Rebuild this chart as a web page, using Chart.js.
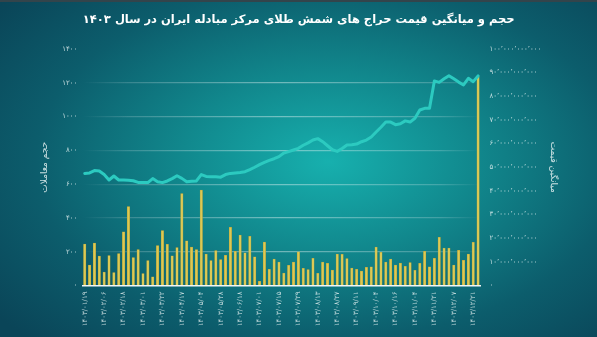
<!DOCTYPE html>
<html>
<head>
<meta charset="utf-8">
<script src="https://cdn.jsdelivr.net/npm/chart.js@4.4.1/dist/chart.umd.min.js"></script>
<style>
  html, body { margin: 0; padding: 0; }
  body {
    width: 597px; height: 337px; overflow: hidden;
    background: radial-gradient(ellipse 70% 75% at 55% 48%, #17b0ae 0%, #11888d 35%, #0c5d6c 70%, #0a4558 100%);
    border-top: 2px solid #33444b;
    box-sizing: border-box;
  }
  canvas { display: block; }
</style>
</head>
<body>
<canvas id="chart" width="597" height="335"></canvas>
<script>
// x tick labels (every 4th auction date)
const tickDates = ['۱۴۰۳/۰۱/۱۹', '۱۴۰۳/۰۲/۰۶', '۱۴۰۳/۰۲/۱۸', '۱۴۰۳/۰۳/۰۱', '۱۴۰۳/۰۳/۲۲', '۱۴۰۳/۰۴/۱۷',
  '۱۴۰۳/۰۵/۰۴', '۱۴۰۳/۰۵/۲۸', '۱۴۰۳/۰۶/۱۸', '۱۴۰۳/۰۷/۰۱', '۱۴۰۳/۰۷/۱۵', '۱۴۰۳/۰۷/۲۹', '۱۴۰۳/۰۸/۱۳',
  '۱۴۰۳/۰۸/۲۷', '۱۴۰۳/۰۹/۱۱', '۱۴۰۳/۱۰/۰۴', '۱۴۰۳/۱۰/۱۶', '۱۴۰۳/۱۱/۰۴', '۱۴۰۳/۱۱/۲۱', '۱۴۰۳/۱۲/۰۷', '۱۴۰۳/۱۲/۲۱'];

// trade volume per auction (left axis)
const volumes = [245, 121, 251, 174, 80, 177, 77, 189, 318, 467, 166, 212, 70, 148, 52, 237, 325, 243, 176, 225, 544, 265,
  228, 212, 565, 186, 147, 206, 153, 179, 344, 202, 299, 194, 291, 169, 25, 257, 96, 157, 139, 74, 120, 139,
  200, 102, 94, 161, 72, 139, 131, 92, 186, 184, 159, 103, 96, 86, 107, 111, 228, 196, 139, 157, 121,
  133, 113, 135, 90, 131, 202, 111, 161, 285, 222, 222, 121, 208, 149, 186, 256, 1237];

// average price, billion rial (right axis)
const prices = [47.4, 47.6, 48.6, 48.4, 46.9, 44.6, 46.3, 44.6, 44.6, 44.5, 44.3, 43.6, 43.6, 43.5, 45.2, 43.9, 43.5,
  44.2, 45.2, 46.4, 45.3, 43.9, 44.1, 44.2, 46.9, 46.1, 46.0, 46.0, 45.8, 46.9, 47.4, 47.6, 47.8, 48.1, 49.0,
  50.0, 51.1, 52.1, 52.9, 53.6, 54.5, 56.0, 56.6, 57.3, 58.0, 59.3, 60.3, 61.5, 62.1, 60.8, 59.1, 57.4, 56.7,
  57.9, 59.4, 59.5, 59.8, 60.8, 61.5, 62.8, 64.9, 66.9, 69.1, 69.1, 68.0, 68.4, 69.6, 69.1, 70.7, 74.2, 74.9,
  74.9, 86.5, 85.9, 87.4, 88.7, 87.4, 86.0, 84.8, 87.6, 86.2, 88.6];

const faDigits = '۰۱۲۳۴۵۶۷۸۹';
function toFa(s) {
  return String(s).replace(/\d/g, d => faDigits[d]);
}
function faNumber(n) {
  return toFa(Math.round(n).toLocaleString('en-US').replace(/,/g, '٬'));
}

const labels = volumes.map((v, i) => (i % 4 === 0 ? tickDates[i / 4] : ''));

const fontFamily = '"DejaVu Sans", sans-serif';
const tickColor = 'rgba(235, 245, 245, 0.8)';

// faint grid lines that fade out at both ends
function gridColor(context) {
  const chart = context.chart;
  const area = chart.chartArea;
  const v = context.tick ? context.tick.value : null;
  if (v === 0 || v === 1400) return 'rgba(0,0,0,0)';
  if (!area) return 'rgba(255,255,255,0.25)';
  const g = chart.ctx.createLinearGradient(area.left, 0, area.right, 0);
  g.addColorStop(0, 'rgba(255,255,255,0)');
  g.addColorStop(0.12, 'rgba(255,255,255,0.18)');
  g.addColorStop(0.5, 'rgba(255,255,255,0.4)');
  g.addColorStop(0.9, 'rgba(255,255,255,0.2)');
  g.addColorStop(1, 'rgba(255,255,255,0)');
  return g;
}

new Chart(document.getElementById('chart'), {
  type: 'bar',
  data: {
    labels: labels,
    datasets: [
      {
        type: 'line',
        label: 'میانگین قیمت',
        data: prices,
        yAxisID: 'y1',
        borderColor: '#2ccac0',
        borderWidth: 3,
        pointRadius: 0,
        tension: 0,
        borderJoinStyle: 'round',
        borderCapStyle: 'round',
        order: 0
      },
      {
        type: 'bar',
        label: 'حجم معاملات',
        data: volumes,
        yAxisID: 'y',
        backgroundColor: '#dcc955',
        borderColor: '#b3a23a',
        borderWidth: 0.5,
        barThickness: 2.4,
        order: 1
      }
    ]
  },
  options: {
    responsive: false,
    animation: false,
    layout: { padding: { left: 35, right: 34.6, top: 0, bottom: 0 } },
    plugins: {
      legend: { display: false },
      tooltip: { enabled: false },
      title: {
        display: true,
        text: 'حجم و میانگین قیمت حراج های شمش طلای مرکز مبادله ایران در سال ۱۴۰۳',
        color: '#ffffff',
        font: { family: fontFamily, size: 11.5, weight: 'bold' },
        padding: { top: 11, bottom: 22.2 }
      }
    },
    scales: {
      x: {
        grid: { display: false, drawTicks: false },
        border: { display: true, color: '#f2f7f7', width: 1.5 },
        ticks: {
          autoSkip: false,
          minRotation: 90,
          maxRotation: 90,
          padding: 6,
          color: tickColor,
          font: { family: fontFamily, size: 7 },
          callback: function (value, index) { return labels[index]; }
        },
        afterFit: function (scale) { scale.height = 51.5; }
      },
      y: {
        position: 'left',
        min: 0,
        max: 1400,
        grid: { color: gridColor, lineWidth: 1.2, drawTicks: false },
        border: { display: false },
        ticks: {
          stepSize: 200,
          padding: 5,
          color: tickColor,
          font: { family: fontFamily, size: 7 },
          callback: v => toFa(v)
        },
        title: {
          display: true,
          text: 'حجم معاملات',
          color: 'rgba(235,245,245,0.85)',
          font: { family: fontFamily, size: 9 },
          padding: { top: 4, bottom: 0 }
        },
        afterFit: function (scale) { scale.width = 47.3; }
      },
      y1: {
        position: 'right',
        min: 0,
        max: 100,
        grid: { display: false, drawTicks: false },
        border: { display: false },
        ticks: {
          stepSize: 10,
          padding: 9,
          color: tickColor,
          font: { family: fontFamily, size: 7 },
          callback: v => faNumber(v * 1e9)
        },
        title: {
          display: true,
          text: 'میانگین قیمت',
          color: 'rgba(235,245,245,0.85)',
          font: { family: fontFamily, size: 9 },
          padding: { top: 4, bottom: 0 }
        },
        afterFit: function (scale) { scale.width = 81.9; }
      }
    }
  }
});
</script>
</body>
</html>
